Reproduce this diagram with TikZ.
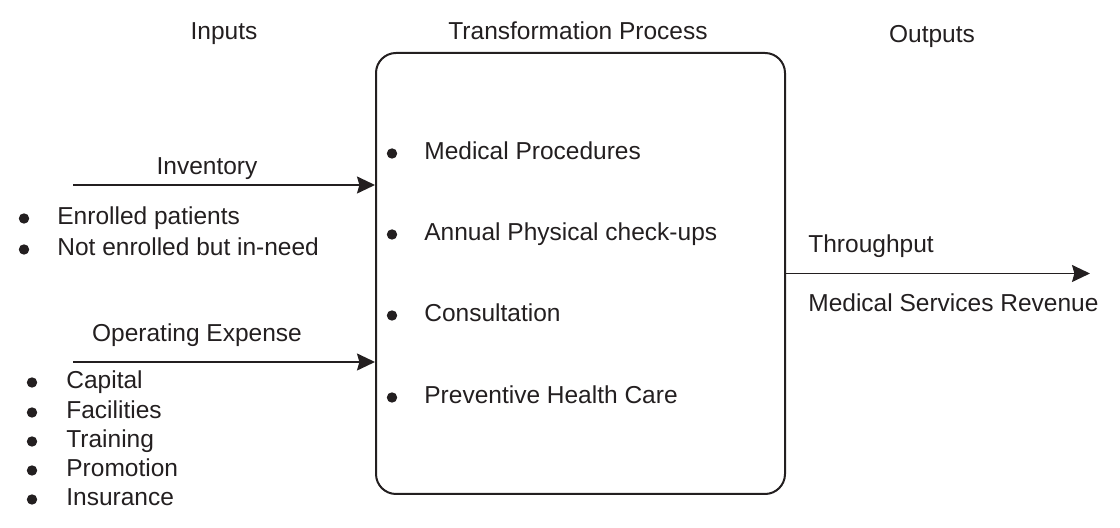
\documentclass[tikz,border=0pt]{standalone}
\usepackage{fontspec}
\setmainfont{Liberation Sans}
\usetikzlibrary{arrows.meta}
\definecolor{ink}{RGB}{35,31,32}
\tikzset{
  lbl/.style={anchor=base, inner sep=0pt, text=ink},
  item/.style={anchor=base west, inner sep=0pt, text=ink},
  dot/.style={circle, fill=ink, inner sep=0pt, minimum size=5.2pt},
  flow/.style={-{Stealth[length=9pt,width=8.5pt,inset=1.2pt]}, line width=0.8pt, draw=ink},
}

\begin{document}
\begin{tikzpicture}[x=0.5pt, y=-0.5pt, font=\fontsize{12.25}{14.7}\selectfont]
\useasboundingbox (0,0) rectangle (1120,528);
% Headings
\node[lbl] (inputs) at (224,40) {Inputs};
\node[lbl] (trans) at (578,40) {Transformation Process};
\node[lbl] (outputs) at (932,43) {Outputs};

% Transformation box
\node[draw=ink, line width=1pt, rounded corners=10pt, minimum width=204.5pt, minimum height=220.5pt, inner sep=0pt] (box) at (580.5,273.5) {};
\foreach \y/\t [count=\i] in {160/Medical Procedures, 241/Annual Physical check-ups, 322/Consultation, 404/Preventive Health Care} {
  \node[dot] (pdot\i) at (392,\y-6.5) {};
  \node[item] (proc\i) at (424,\y) {\t};
}

% Inventory input
\node[lbl] (inv) at (207,175) {Inventory};
\coordinate (invstart) at (73,185);
\draw[flow] (invstart) -- (invstart -| box.west);
\foreach \y/\t [count=\i] in {225/Enrolled patients, 256/Not enrolled but in-need} {
  \node[dot] (idot\i) at (24,\y-6.5) {};
  \node[item] (invitem\i) at (57,\y) {\t};
}

% Operating expense input
\node[lbl] (opex) at (197,342) {Operating Expense};
\coordinate (opstart) at (73,362);
\draw[flow] (opstart) -- (opstart -| box.west);
\foreach \y/\t [count=\i] in {389/Capital, 419/Facilities, 448/Training, 477/Promotion, 506/Insurance} {
  \node[dot] (odot\i) at (32,\y-6.5) {};
  \node[item] (opitem\i) at (66,\y) {\t};
}

% Output
\coordinate (outend) at (1090,273.5);
\draw[flow] (box.east) -- (outend);
\node[item] (thru) at (808,253) {Throughput};
\node[item] (rev) at (808,312) {Medical Services Revenue};
\end{tikzpicture}
\end{document}
